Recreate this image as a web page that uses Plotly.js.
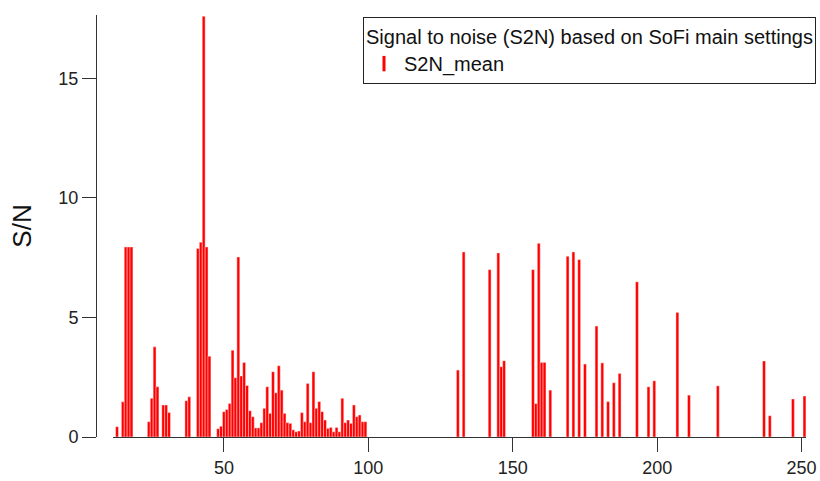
<!DOCTYPE html>
<html>
<head>
<meta charset="utf-8">
<script src="https://cdn.plot.ly/plotly-3.0.1.min.js"></script>
<style>
  html, body { margin: 0; padding: 0; background: #fff; }
  #chart { width: 820px; height: 481px; }
</style>
</head>
<body>
<div id="chart"></div>
<script>
// Bin positions (x) and S/N mean values
const binX = [13, 15, 16, 17, 18, 24, 25, 26, 27, 29, 30, 31, 37, 38,
  41, 42, 43, 44, 45, 48, 49, 50, 51, 52, 53, 54, 55, 56, 57, 58, 59, 60,
  61, 62, 63, 64, 65, 66, 67, 68, 69, 70, 71, 72, 73, 74, 75, 76, 77, 78,
  79, 80, 81, 82, 83, 84, 85, 86, 87, 88, 89, 90, 91, 92, 93, 94, 95, 96,
  97, 98, 99, 131, 133, 142, 145, 146, 147, 157, 158, 159, 160, 161, 163,
  169, 171, 173, 175, 179, 181, 183, 185, 187, 193, 197, 199, 207, 211,
  221, 237, 239, 247, 251];
const s2nMean = [0.43, 1.47, 7.95, 7.95, 7.95, 0.64, 1.62, 3.77, 2.10, 1.34, 1.34, 1.02, 1.52, 1.68,
  7.88, 8.15, 17.6, 7.95, 3.38, 0.35, 0.45, 1.06, 1.15, 1.40, 3.63, 2.48, 7.53, 2.55, 3.12, 2.15, 1.10, 0.85,
  0.38, 0.38, 0.60, 1.20, 2.10, 0.99, 2.73, 1.85, 2.98, 1.96, 0.99, 0.60, 0.57, 0.30, 0.22, 0.25, 1.02, 0.64,
  2.24, 0.60, 2.73, 1.20, 1.48, 1.06, 0.71, 0.36, 0.40, 0.22, 0.40, 0.22, 1.62, 0.60, 0.71, 0.57, 1.34, 0.85,
  0.92, 0.64, 0.64, 2.80, 7.74, 7.00, 7.70, 2.94, 3.19, 7.00, 1.40, 8.10, 3.12, 3.12, 1.96,
  7.56, 7.74, 7.42, 3.05, 4.64, 3.10, 1.48, 2.27, 2.66, 6.49, 2.10, 2.35, 5.21, 1.75,
  2.14, 3.18, 0.89, 1.59, 1.71];
const xTicks = [50, 100, 150, 200, 250];
const yTicks = [0, 5, 10, 15];
const legendTitle = 'Signal to noise (S2N) based on SoFi main settings';
const seriesName = 'S2N_mean';
const yTitle = 'S/N';

const FONT = '"Liberation Sans", Arial, sans-serif';

const traces = [
  {
    type: 'bar',
    x: binX,
    y: s2nMean,
    width: 1,
    marker: { color: 'rgb(255,0,0)', line: { color: 'rgba(255,235,235,0.9)', width: 0.5 } },
    showlegend: false,
    hoverinfo: 'x+y'
  },
  {
    type: 'scatter',
    mode: 'markers',
    x: [null],
    y: [null],
    name: seriesName,
    marker: { symbol: 'line-ns', size: 11, line: { color: 'rgb(255,0,0)', width: 3 } },
    showlegend: true
  }
];

const layout = {
  width: 820,
  height: 481,
  margin: { l: 96, r: 4, t: 15, b: 44 },
  paper_bgcolor: '#fff',
  plot_bgcolor: '#fff',
  font: { family: FONT, color: '#222', size: 18 },
  bargap: 0,
  xaxis: {
    domain: [0.0236, 0.9864],
    range: [11.6, 251.6],
    tickvals: xTicks,
    ticktext: xTicks.map(String),
    ticks: 'outside',
    ticklen: 14,
    tickwidth: 1,
    tickcolor: '#333',
    showline: true,
    linecolor: '#333',
    linewidth: 1,
    showgrid: false,
    zeroline: false,
    tickfont: { family: FONT, size: 18, color: '#222' }
  },
  yaxis: {
    anchor: 'free',
    position: 0,
    range: [0, 17.65],
    tickvals: yTicks,
    ticktext: yTicks.map(String),
    ticks: 'outside',
    ticklen: 14,
    tickwidth: 1,
    tickcolor: '#333',
    showline: true,
    linecolor: '#333',
    linewidth: 1,
    showgrid: false,
    zeroline: false,
    tickfont: { family: FONT, size: 18, color: '#222' },
    title: { text: yTitle, font: { family: FONT, size: 26, color: '#111' }, standoff: 18 }
  },
  legend: {
    x: 1,
    xanchor: 'right',
    y: 0.995,
    yanchor: 'top',
    bgcolor: '#fff',
    bordercolor: '#222',
    borderwidth: 1,
    font: { family: FONT, size: 20, color: '#111' },
    title: { text: legendTitle, side: 'top', font: { family: FONT, size: 20, color: '#111' } },
    tracegroupgap: 0
  },
  showlegend: true
};

Plotly.newPlot('chart', traces, layout, { displayModeBar: false, staticPlot: true });
</script>
</body>
</html>
